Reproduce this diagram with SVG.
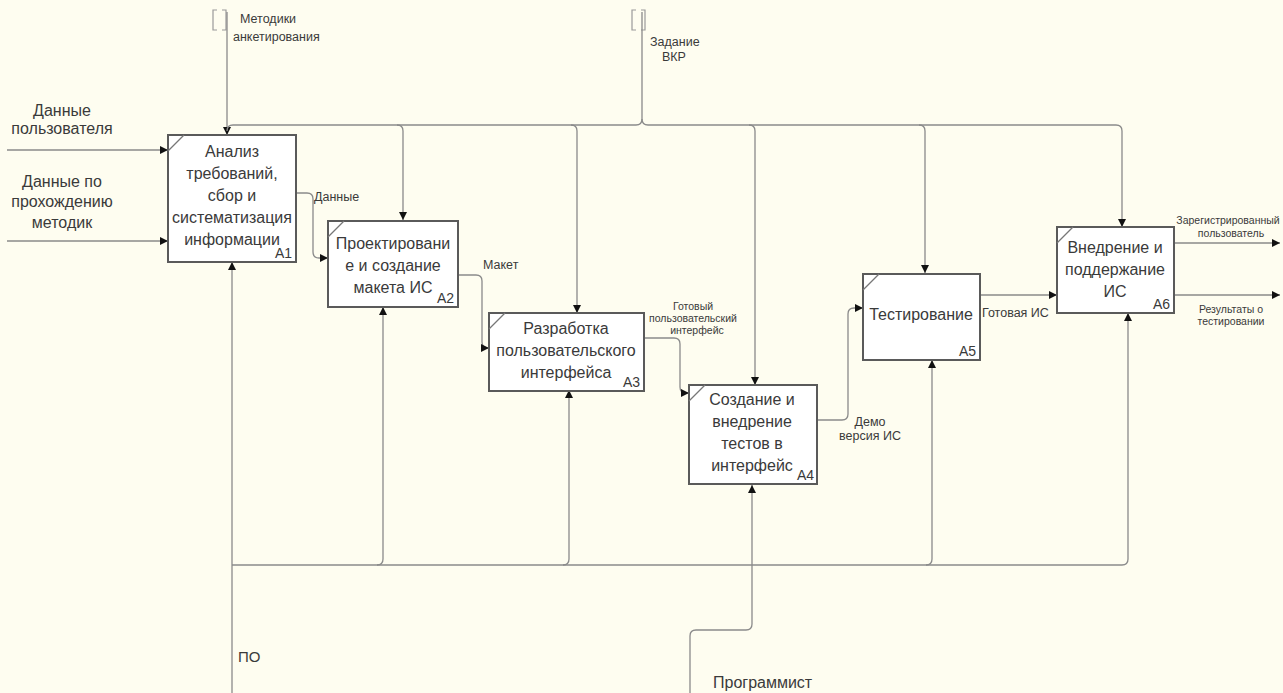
<svg xmlns="http://www.w3.org/2000/svg" width="1283" height="693" viewBox="0 0 1283 693">
<defs>
<style>
.bg{fill:#fefdf0}
.box{fill:#ffffff;stroke:#5a5a5a;stroke-width:2}
.mark{stroke:#777;stroke-width:1.2}
.ln{fill:none;stroke:#8a8a8a;stroke-width:1.3}
.t{font-family:"Liberation Sans",Arial,sans-serif;fill:#3a3a3a}
.bt{font-size:16px;text-anchor:middle}
.id{font-size:14px;text-anchor:end}
.lb{font-size:16px;text-anchor:middle}
.sm{font-size:12.5px}
.xs{font-size:10.5px;text-anchor:middle}
.br{fill:none;stroke:#9a9a9a;stroke-width:1.2}
</style>
<marker id="arr" viewBox="0 0 10 10" refX="10" refY="5" markerWidth="10" markerHeight="8" markerUnits="userSpaceOnUse" orient="auto"><path d="M0,0 L10,5 L0,10 z" fill="#111"/></marker>
</defs>
<rect class="bg" x="0" y="0" width="1283" height="693"/>

<g id="connectors">
<path class="br" d="M217,10 H213 V30 H217 M222,10 H226 V30 H222"/>
<path class="br" d="M636,10 H632 V30 H636 M641,10 H645 V30 H641"/>
<path class="ln" d="M227,12 V135" marker-end="url(#arr)"/>
<path class="ln" d="M642,12 V119 Q642,125 636,125 H233 Q227,125 227,131"/>
<path class="ln" d="M642,119 Q642,125 648,125 H1116 Q1122,125 1122,131 V227" marker-end="url(#arr)"/>
<path class="ln" d="M397,125 Q403,125 403,131 V220" marker-end="url(#arr)"/>
<path class="ln" d="M571,125 Q577,125 577,131 V313" marker-end="url(#arr)"/>
<path class="ln" d="M749,125 Q755,125 755,131 V385" marker-end="url(#arr)"/>
<path class="ln" d="M919,125 Q925,125 925,131 V273" marker-end="url(#arr)"/>
<path class="ln" d="M7,150 H168" marker-end="url(#arr)"/>
<path class="ln" d="M7,241 H168" marker-end="url(#arr)"/>
<path class="ln" d="M296,193 H307 Q313,193 313,199 V252 Q313,258 319,258 H328" marker-end="url(#arr)"/>
<path class="ln" d="M458,275 H476 Q482,275 482,281 V342 Q482,348 488,348 H489" marker-end="url(#arr)"/>
<path class="ln" d="M644,338 H674 Q680,338 680,344 V387 Q680,393 686,393 H689" marker-end="url(#arr)"/>
<path class="ln" d="M817,420 H842 Q848,420 848,414 V314 Q848,308 854,308 H863" marker-end="url(#arr)"/>
<path class="ln" d="M980,295 H1057" marker-end="url(#arr)"/>
<path class="ln" d="M1174,243 H1280" marker-end="url(#arr)"/>
<path class="ln" d="M1174,295 H1280" marker-end="url(#arr)"/>
<path class="ln" d="M232,693 V262" marker-end="url(#arr)"/>
<path class="ln" d="M232,565 H1122 Q1128,565 1128,559 V313" marker-end="url(#arr)"/>
<path class="ln" d="M377,565 Q383,565 383,559 V307" marker-end="url(#arr)"/>
<path class="ln" d="M563,565 Q569,565 569,559 V390" marker-end="url(#arr)"/>
<path class="ln" d="M926,565 Q932,565 932,559 V360" marker-end="url(#arr)"/>
<path class="ln" d="M690,693 V636 Q690,630 696,630 H746 Q752,630 752,624 V485" marker-end="url(#arr)"/>
</g>

<g id="labels">
<text class="t sm" x="240" y="23">Методики</text>
<text class="t sm" x="233" y="41">анкетирования</text>
<text class="t sm" x="650" y="46">Задание</text>
<text class="t sm" x="662" y="61">ВКР</text>
<text class="t lb" x="62" y="116">Данные</text>
<text class="t lb" x="62" y="134">пользователя</text>
<text class="t lb" x="62" y="187">Данные по</text>
<text class="t lb" x="62" y="207">прохождению</text>
<text class="t lb" x="62" y="228">методик</text>
<text class="t sm" x="314" y="201">Данные</text>
<text class="t sm" x="483" y="269">Макет</text>
<text class="t xs" x="693" y="310">Готовый</text>
<text class="t xs" x="693" y="322">пользовательский</text>
<text class="t xs" x="697" y="334">интерфейс</text>
<text class="t sm" text-anchor="middle" x="870" y="426">Демо</text>
<text class="t sm" text-anchor="middle" x="870" y="440">версия ИС</text>
<text class="t sm" x="982" y="317">Готовая ИС</text>
<text class="t xs" x="1228" y="224">Зарегистрированный</text>
<text class="t xs" x="1231" y="237">пользователь</text>
<text class="t xs" x="1231" y="313">Результаты о</text>
<text class="t xs" x="1231" y="325">тестировании</text>
<text class="t" font-size="15" x="238" y="662">ПО</text>
<text class="t" font-size="16" x="713" y="688">Программист</text>
</g>

<g id="A1">
<rect class="box" x="168" y="135" width="128" height="127"/>
<line class="mark" x1="168" y1="151" x2="184" y2="135"/>
<text class="t bt" x="232" y="157">Анализ</text>
<text class="t bt" x="232" y="179">требований,</text>
<text class="t bt" x="232" y="201">сбор и</text>
<text class="t bt" x="232" y="223">систематизация</text>
<text class="t bt" x="232" y="245">информации</text>
<text class="t id" x="292" y="258">А1</text>
</g>
<g id="A2">
<rect class="box" x="328" y="221" width="130" height="86"/>
<line class="mark" x1="328" y1="237" x2="344" y2="221"/>
<text class="t bt" x="393" y="249">Проектировани</text>
<text class="t bt" x="393" y="271">е и создание</text>
<text class="t bt" x="393" y="293">макета ИС</text>
<text class="t id" x="454" y="303">А2</text>
</g>
<g id="A3">
<rect class="box" x="489" y="313" width="155" height="78"/>
<line class="mark" x1="489" y1="329" x2="505" y2="313"/>
<text class="t bt" x="566" y="334">Разработка</text>
<text class="t bt" x="566" y="356">пользовательского</text>
<text class="t bt" x="566" y="378">интерфейса</text>
<text class="t id" x="640" y="387">А3</text>
</g>
<g id="A4">
<rect class="box" x="689" y="385" width="128" height="99"/>
<line class="mark" x1="689" y1="401" x2="705" y2="385"/>
<text class="t bt" x="752" y="405">Создание и</text>
<text class="t bt" x="752" y="427">внедрение</text>
<text class="t bt" x="752" y="449">тестов в</text>
<text class="t bt" x="752" y="471">интерфейс</text>
<text class="t id" x="814" y="480">А4</text>
</g>
<g id="A5">
<rect class="box" x="863" y="274" width="117" height="86"/>
<line class="mark" x1="863" y1="290" x2="879" y2="274"/>
<text class="t bt" x="921" y="320">Тестирование</text>
<text class="t id" x="976" y="356">А5</text>
</g>
<g id="A6">
<rect class="box" x="1057" y="227" width="117" height="86"/>
<line class="mark" x1="1057" y1="243" x2="1073" y2="227"/>
<text class="t bt" x="1115" y="253">Внедрение и</text>
<text class="t bt" x="1115" y="275">поддержание</text>
<text class="t bt" x="1115" y="297">ИС</text>
<text class="t id" x="1170" y="309">А6</text>
</g>
</svg>
